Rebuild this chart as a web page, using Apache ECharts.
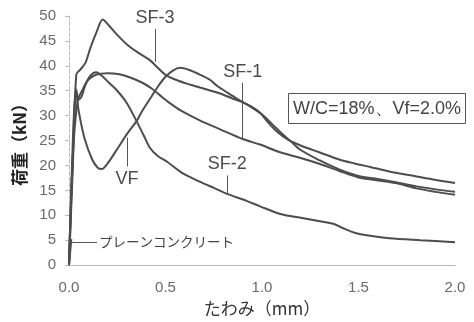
<!DOCTYPE html>
<html><head><meta charset="utf-8">
<script src="https://cdn.jsdelivr.net/npm/echarts@6/dist/echarts.min.js"></script>
<style>html,body{margin:0;padding:0;background:#fff}#c{width:474px;height:322px}</style>
</head><body><div id="c"></div>
<script>
const xTicks = [0, 0.5, 1.0, 1.5, 2.0];
const yTicks = [0, 5, 10, 15, 20, 25, 30, 35, 40, 45, 50];
const sf3 = [[0,0],[0.02,20],[0.038,38.3],[0.06,39.3],[0.085,40.6],[0.11,43.5],[0.14,46.5],[0.175,49.3],[0.2,48.4],[0.25,46.2],[0.3,44.3],[0.36,42.6],[0.42,41.1],[0.46,39.6],[0.5,38.2],[0.56,37.1],[0.63,36.2],[0.7,35.4],[0.78,34.5],[0.85,33.4],[0.9,32.7],[0.96,31.3],[1.0,30.2],[1.05,28.4],[1.1,26.5],[1.15,24.8],[1.2,23.1],[1.3,21.0],[1.4,19.2],[1.5,17.9],[1.6,17.3],[1.7,16.6],[1.8,15.8],[1.9,15.2],[2.0,14.7]];
const sf1 = [[0,0],[0.02,22],[0.045,33],[0.07,35.2],[0.1,37.2],[0.14,38.2],[0.2,38.5],[0.26,38.3],[0.32,37.6],[0.38,36.6],[0.43,35.4],[0.48,33.8],[0.53,32.3],[0.58,31.0],[0.68,29.0],[0.78,27.3],[0.9,25.3],[0.99,24.2],[1.09,22.7],[1.2,21.5],[1.3,20.3],[1.4,18.9],[1.5,17.6],[1.6,17.0],[1.7,16.4],[1.8,15.4],[1.9,14.7],[2.0,14.1]];
const sf2 = [[0,0],[0.02,22],[0.038,35.2],[0.05,33.2],[0.065,33.8],[0.085,36.2],[0.11,38.0],[0.14,38.7],[0.17,38.0],[0.21,36.5],[0.25,35.0],[0.3,32.5],[0.35,28.9],[0.39,25.8],[0.42,23.5],[0.46,21.9],[0.51,20.7],[0.59,18.4],[0.68,16.7],[0.75,15.5],[0.82,14.3],[0.92,12.9],[0.99,11.8],[1.1,10.2],[1.2,9.5],[1.3,8.8],[1.37,8.3],[1.42,7.4],[1.48,6.5],[1.56,5.9],[1.66,5.4],[1.82,5.0],[2.0,4.6]];
const vf = [[0,0],[0.02,25],[0.035,35.3],[0.05,31.0],[0.08,25.5],[0.12,21.2],[0.15,19.5],[0.17,19.3],[0.2,20.4],[0.25,23.3],[0.3,26.3],[0.35,28.9],[0.38,31.0],[0.42,33.4],[0.46,35.8],[0.5,37.8],[0.54,39.1],[0.575,39.6],[0.62,39.2],[0.68,38.2],[0.73,37.2],[0.77,35.9],[0.85,33.9],[0.9,32.7],[0.95,31.7],[0.99,30.6],[1.03,28.7],[1.08,26.7],[1.13,25.3],[1.2,24.0],[1.3,22.6],[1.4,21.2],[1.48,20.4],[1.56,19.7],[1.66,18.8],[1.8,17.8],[1.9,17.1],[2.0,16.5]];
const plain = [[0,0],[0.012,5.2]];
const names = ['SF-3','SF-1','SF-2','VF','プレーンコンクリート'];
// leader lines: [start, end] in data units
const leaderSF3 = [[0.446,40.8],[0.446,47.4]];
const leaderSF1 = [[0.9,25.3],[0.9,36.6]];
const leaderSF2 = [[0.82,14.3],[0.82,18.0]];
const leaderVF = [[0.30,25.6],[0.30,19.8]];
const leaderPlain = [[0.015,4.6],[0.145,4.6]];
const boxText = 'W/C=18%、Vf=2.0%';

const lineColor = '#4d4d4d';
const lblFont = {color:'#4a4a4a', fontSize:18, fontFamily:'Liberation Sans'};
function leader(pts, text, dist, extra){
  return {symbol:'none', silent:true, animation:false,
    lineStyle:{color:'#555', width:1, type:'solid'},
    label:Object.assign({show:true, position:'end', distance:dist, formatter:text}, lblFont, extra||{}),
    data:[[{coord:pts[0]},{coord:pts[1]}]]};
}
function ser(name, data, ml){
  return {name, type:'line', data, showSymbol:false, smooth:0.3, animation:false,
    lineStyle:{color:lineColor, width:2}, itemStyle:{color:lineColor}, markLine:ml};
}
const chart = echarts.init(document.getElementById('c'));
chart.setOption({
  backgroundColor:'#fff',
  animation:false,
  title:{text:boxText, left:288, top:93, borderWidth:1, borderColor:'#555', padding:[7,5,6,5],
    textStyle:{fontSize:18, fontWeight:'normal', color:'#444', fontFamily:'Liberation Sans'}},
  grid:{left:69, right:19, top:16, bottom:55},
  xAxis:{type:'value', min:0, max:2, interval:0.5,
    name:'たわみ（mm）', nameLocation:'middle', nameGap:27,
    nameTextStyle:{fontSize:17, color:'#333', fontFamily:'Noto Sans CJK JP'},
    axisLine:{show:true, lineStyle:{color:'#bbb', width:1}},
    axisTick:{show:false}, splitLine:{show:false},
    axisLabel:{margin:15, fontSize:15, color:'#6a6a6a', fontFamily:'Liberation Sans',
      formatter:v=>xTicks.includes(v)?v.toFixed(1):''}},
  yAxis:{type:'value', min:0, max:50, interval:5,
    name:'荷重（kN）', nameLocation:'middle', nameGap:40, nameRotate:90,
    nameTextStyle:{fontSize:17, color:'#222', fontWeight:'bold', fontFamily:'Noto Sans CJK JP'},
    axisLine:{show:true, lineStyle:{color:'#bbb', width:1, type:'dashed'}},
    axisTick:{show:true, length:4, lineStyle:{color:'#bbb'}}, splitLine:{show:false},
    axisLabel:{margin:13, fontSize:15, color:'#6a6a6a', fontFamily:'Liberation Sans',
      formatter:v=>yTicks.includes(v)?String(v):''}},
  series:[
    ser(names[0], sf3, leader(leaderSF3, names[0], 2)),
    ser(names[1], sf1, leader(leaderSF1, names[1], 2)),
    ser(names[2], sf2, leader(leaderSF2, names[2], 2)),
    ser(names[3], vf, leader(leaderVF, names[3], 4)),
    ser(names[4], plain, leader(leaderPlain, names[4], 2, {fontSize:13.5, fontFamily:'Noto Sans CJK JP', color:'#444'}))
  ]
});
</script></body></html>
